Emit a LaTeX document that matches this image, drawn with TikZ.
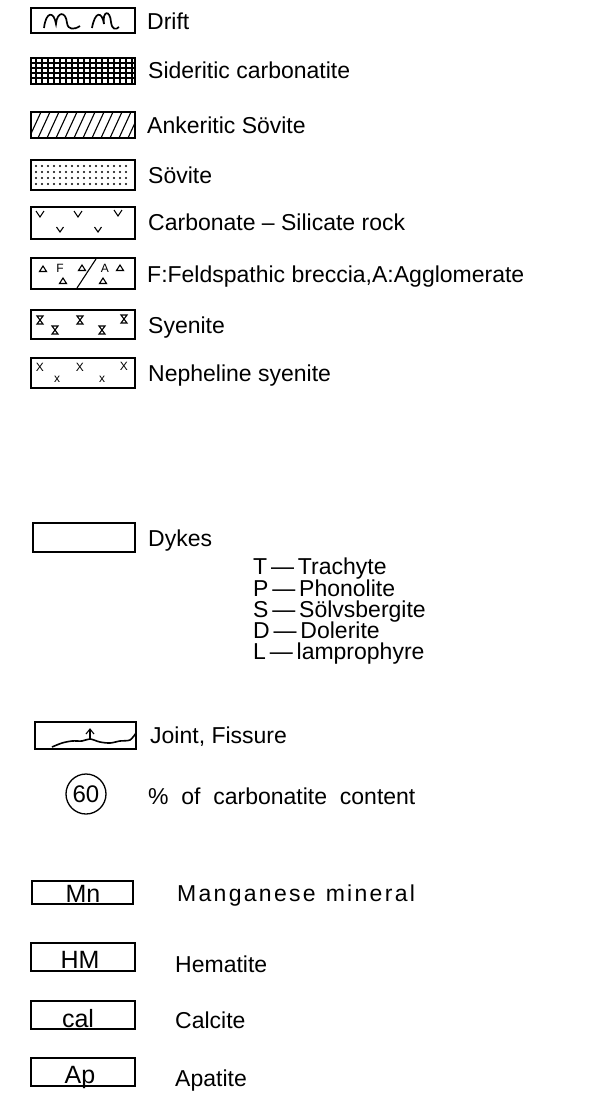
\documentclass[tikz,border=0pt]{standalone}
\usepackage{fontspec}
\setmainfont{Liberation Sans}

\begin{document}
\begin{tikzpicture}[x=1pt,y=-1pt,
  keybox/.style={draw,line width=1.1pt},
  symline/.style={line width=1.1pt},
  lbl/.style={anchor=base west,inner sep=0pt,font=\fontsize{23}{26}\selectfont},
  boxtxt/.style={anchor=base,inner sep=0pt,font=\fontsize{25}{28}\selectfont},
  tiny/.style={inner sep=0pt,font=\fontsize{12}{13}\selectfont}]
\useasboundingbox (0,0) rectangle (606,1095);

% Drift
\draw[keybox] (31,8) rectangle (135,33);
\draw[symline,line width=1.7pt] (44,28) .. controls (46,11) and (54,11) .. (56,24)
  .. controls (57,11) and (66,11) .. (67,23) .. controls (68,30) and (74,30) .. (80,26);
\draw[symline,line width=1.7pt] (92,28) .. controls (95,11) and (102,11) .. (104,24)
  .. controls (102,11) and (110,9) .. (111,22) .. controls (112,30) and (116,30) .. (119,27);
\node[lbl] (drift) at (147,29) {Drift};

% Sideritic carbonatite
\draw[keybox] (31,58) rectangle (135,84);
\foreach \x in {36,42,...,132} \draw[symline] (\x,58) -- (\x,84);
\foreach \y in {63,68,73,78} \draw[symline] (31,\y) -- (135,\y);
\node[lbl] (siderite) at (148,78) {Sideritic carbonatite};

% Ankeritic Sovite
\begin{scope}
\clip (31,112) rectangle (135,138);
\foreach \i in {0,...,13} \draw[symline] (20+\i*9,138) -- (32+\i*9,112);
\end{scope}
\draw[keybox] (31,112) rectangle (135,138);
\node[lbl] (ankerite) at (147,133) {Ankeritic Sövite};

% Sovite
\draw[keybox] (31,160) rectangle (135,190);
\foreach \y in {166,172,178,184}
  \foreach \x in {36,42,...,131} \fill (\x,\y) circle (1.2);
\node[lbl] (sovite) at (148,183) {Sövite};

% Carbonate-Silicate rock
\draw[keybox] (31,207) rectangle (135,239);
\foreach \x/\y in {40/214,78/214,118/213}
  \draw[symline] (\x-4,\y-3) -- (\x,\y+3) -- (\x+4,\y-3);
\foreach \x/\y in {60/230,98/230}
  \draw[symline] (\x-3.5,\y-3) -- (\x,\y+2) -- (\x+3.5,\y-3);
\node[lbl] (carbsil) at (148,230) {Carbonate -- Silicate rock};

% Breccia / agglomerate
\draw[keybox] (31,258) rectangle (135,289);
\foreach \x/\y in {43/269,82/268,120/268,63/281,103/281}
  \draw[symline] (\x,\y-3) -- (\x+3.5,\y+2.5) -- (\x-3.5,\y+2.5) -- cycle;
\node[tiny] (fmark) at (60,268) {F};
\node[tiny] (amark) at (105,268) {A};
\draw[symline] (77,288) -- (96,259);
\node[lbl] (breccia) at (147,282) {F:Feldspathic breccia,A:Agglomerate};

% Syenite
\draw[keybox] (31,310) rectangle (135,339);
\foreach \x/\y in {40/320,80/320,124/319,55/330,102/330}
  \draw[symline] (\x-3,\y-4) -- (\x+3,\y-4) -- (\x-3,\y+4) -- (\x+3,\y+4) -- cycle;
\node[lbl] (syenite) at (148,333) {Syenite};

% Nepheline syenite
\draw[keybox] (31,358) rectangle (135,388);
\foreach \x/\y [count=\n] in {40/367,80/367,124/366}
  \node[tiny] (bigx\n) at (\x,\y) {X};
\foreach \x/\y [count=\n] in {57/379,102/379}
  \node[tiny] (smallx\n) at (\x,\y) {x};
\node[lbl] (nepheline) at (148,381) {Nepheline syenite};

% Dykes
\draw[keybox] (33,523) rectangle (135,552);
\node[lbl] (dykes) at (148,546) {Dykes};
\foreach \y/\k/\w in {574/T/Trachyte,596/P/Phonolite,617/S/Sölvsbergite,
                      638/D/Dolerite,659/L/lamprophyre}
  \node[lbl] (dyke\k) at (253,\y) {\k\,---\,\w};

% Joint, fissure
\draw[keybox] (35,722) rectangle (136,749);
\draw[symline,line width=1.6pt] plot[smooth] coordinates {(52,747) (62,743) (72,741)
  (82,741) (90,739) (100,742) (110,743) (120,741) (130,740) (136,733)};
\draw[symline] (90,739) -- (90,730);
\draw[symline] (86,734) -- (90,729) -- (94,734);
\node[lbl] (joint) at (150,743) {Joint, Fissure};

% carbonatite content
\node[draw,circle,line width=1.3pt,minimum size=40pt,inner sep=0pt,
  font=\fontsize{24}{26}\selectfont] (pct) at (86,794) {60};
\node[lbl] (pcttxt) at (148,804) {\%\ \ of\ \ carbonatite\ \ content};

% minerals
\draw[keybox] (32,881) rectangle (133,904);
\node[boxtxt] (mn) at (83,902) {Mn};
\node[lbl] (mntxt) at (177,901) {\addfontfeatures{LetterSpace=10}Manganese\hspace{10pt}mineral};

\draw[keybox] (31,943) rectangle (135,971);
\node[boxtxt] (hm) at (80,968) {HM};
\node[lbl] (hmtxt) at (175,972) {Hematite};

\draw[keybox] (31,1001) rectangle (135,1029);
\node[boxtxt] (cal) at (78,1027) {cal};
\node[lbl] (caltxt) at (175,1028) {Calcite};

\draw[keybox] (31,1058) rectangle (135,1086);
\node[boxtxt] (ap) at (80,1083) {Ap};
\node[lbl] (aptxt) at (175,1086) {Apatite};
\end{tikzpicture}
\end{document}
